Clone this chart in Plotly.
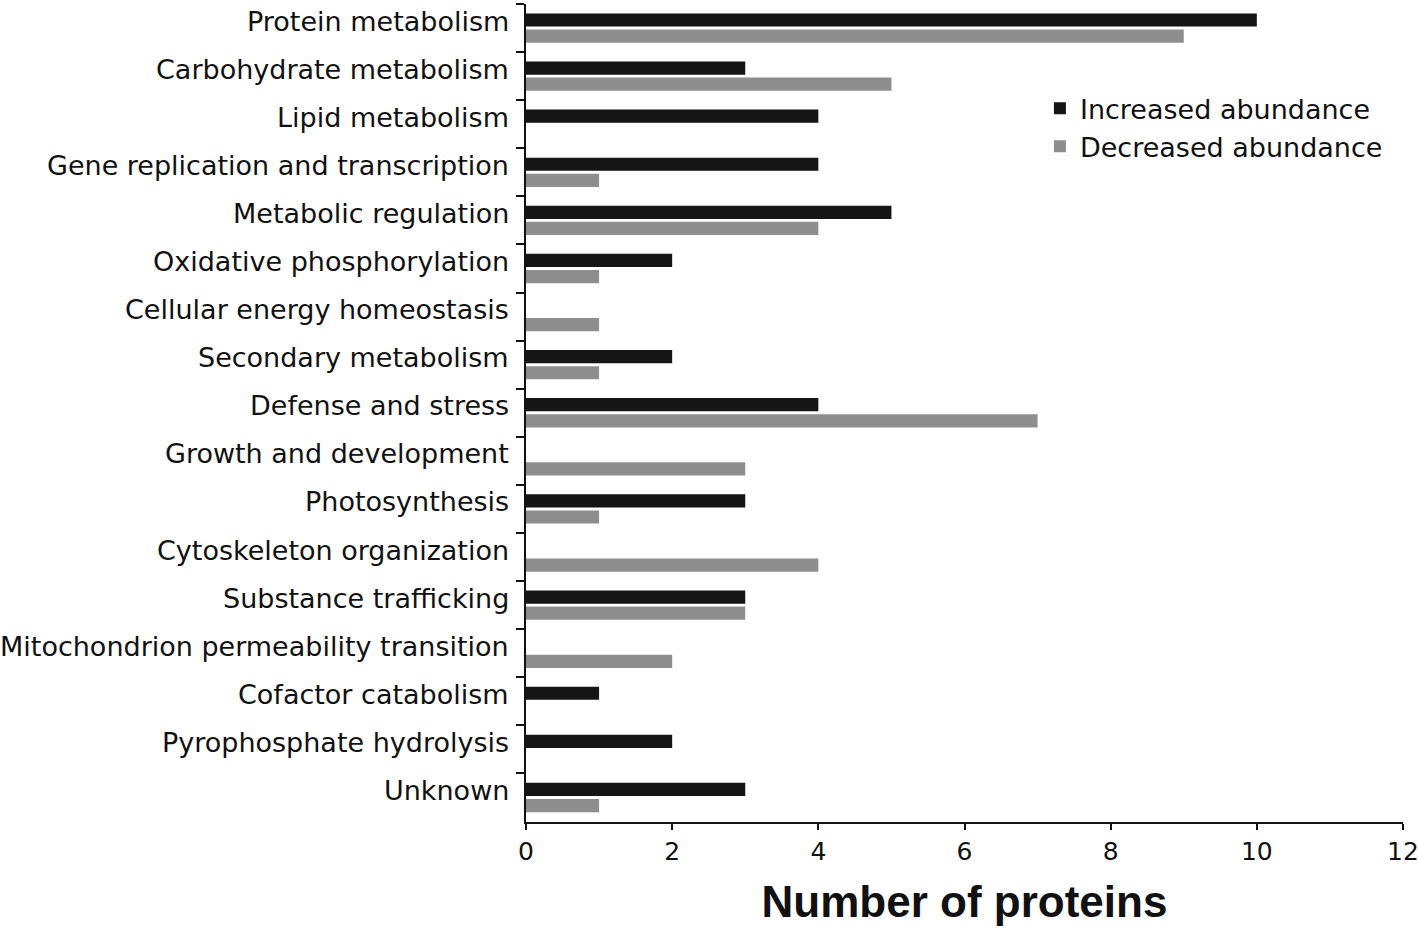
import plotly.graph_objects as go

categories = [
    "Protein metabolism",
    "Carbohydrate metabolism",
    "Lipid metabolism",
    "Gene replication and transcription",
    "Metabolic regulation",
    "Oxidative phosphorylation",
    "Cellular energy homeostasis",
    "Secondary metabolism",
    "Defense and stress",
    "Growth and development",
    "Photosynthesis",
    "Cytoskeleton organization",
    "Substance trafficking",
    "Mitochondrion permeability transition",
    "Cofactor catabolism",
    "Pyrophosphate hydrolysis",
    "Unknown",
]
increased = [10, 3, 4, 4, 5, 2, 0, 2, 4, 0, 3, 0, 3, 0, 1, 2, 3]
decreased = [9, 5, 0, 1, 4, 1, 1, 1, 7, 3, 1, 4, 3, 2, 0, 0, 1]
x_ticks = [0, 2, 4, 6, 8, 10, 12]

FONT = "DejaVu Sans, sans-serif"
TITLE_FONT = "Liberation Sans, Arial, sans-serif"
INK = "#111111"

fig = go.Figure()
fig.add_trace(go.Bar(
    y=categories, x=increased, orientation="h", name="Increased abundance",
    marker=dict(color="#151515", line=dict(width=0)),
))
fig.add_trace(go.Bar(
    y=categories, x=decreased, orientation="h", name="Decreased abundance",
    marker=dict(color="#8e8e8e", line=dict(width=0)),
))

# category labels as text next to the axis (slightly raised, as in the reference)
for cat in categories:
    fig.add_annotation(
        x=0, xref="paper", y=cat, yref="y",
        text=cat, showarrow=False, xanchor="right", yanchor="middle",
        xshift=-15, yshift=7,
        font=dict(size=27, family=FONT, color=INK),
    )

fig.update_layout(
    width=1418, height=930,
    paper_bgcolor="white", plot_bgcolor="white",
    margin=dict(l=526, r=15, t=4, b=108, autoexpand=False),
    barmode="group", bargap=0.33, bargroupgap=0.18,
    font=dict(family=FONT, color=INK),
    legend=dict(
        x=0.586, y=0.902, xanchor="left", yanchor="top",
        font=dict(size=27, family=FONT, color=INK),
        traceorder="normal", bgcolor="rgba(0,0,0,0)",
        itemwidth=30, tracegroupgap=0,
    ),
    showlegend=True,
)

fig.update_xaxes(
    range=[0, 12], tickvals=x_ticks, ticktext=[str(v) for v in x_ticks],
    showline=True, linecolor=INK, linewidth=2,
    ticks="outside", ticklen=6, tickwidth=1.5, tickcolor=INK,
    tickfont=dict(size=25, family=FONT, color=INK),
    ticklabeloverflow="allow",
    showgrid=False, zeroline=False,
    title=dict(text="<b>Number of proteins</b>", font=dict(size=44, family=TITLE_FONT, color=INK), standoff=21),
)
fig.update_yaxes(
    autorange="reversed", categoryorder="array", categoryarray=categories,
    showline=True, linecolor=INK, linewidth=2,
    ticks="outside", ticklen=8, tickwidth=1.5, tickcolor=INK,
    tickson="boundaries", showticklabels=False,
    showgrid=False, zeroline=False,
)

fig.write_html(
    "out.html",
    config={"displayModeBar": False},
    post_script="document.body.style.margin='0px';",
)
